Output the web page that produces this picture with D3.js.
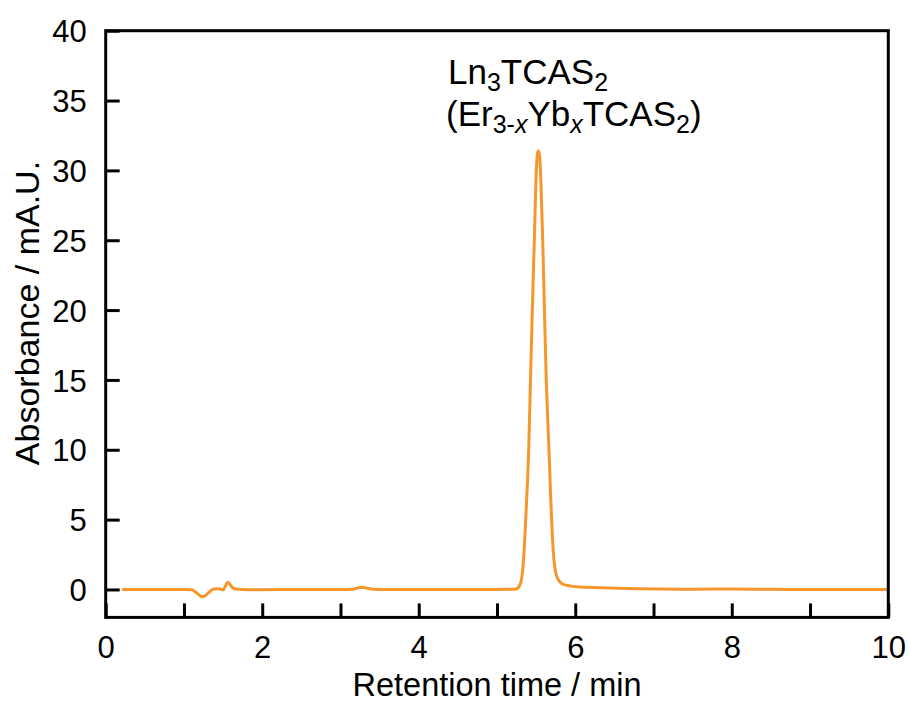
<!DOCTYPE html>
<html>
<head>
<meta charset="utf-8">
<script src="https://cdn.jsdelivr.net/npm/d3@7"></script>
<style>
  body { margin: 0; background: #fff; }
  svg { display: block; }
</style>
</head>
<body>
<div id="viz"></div>
<script>
// chromatogram trace
const times = [0.21, 0.5, 0.8, 1.0, 1.1, 1.15, 1.2, 1.23, 1.27, 1.32, 1.37, 1.42, 1.46, 1.5, 1.53, 1.555, 1.58, 1.62, 1.66, 1.75,
  2.0, 2.5, 3.0, 3.15, 3.22, 3.275, 3.33, 3.42, 3.6, 4.0, 4.5, 5.0, 5.15, 5.22,
  5.252, 5.303, 5.336, 5.371, 5.405, 5.431, 5.456, 5.477, 5.498, 5.515, 5.528,
  5.546, 5.562, 5.584, 5.604, 5.626, 5.664, 5.694, 5.728, 5.771, 5.847, 6.018, 6.316,
  6.8, 7.5, 8.0, 8.5, 9.0, 9.5, 10.0];
const absorbance = [0.0, 0.0, 0.0, 0.0, -0.02, -0.2, -0.42, -0.52, -0.45, -0.2, 0.0, 0.05, 0.03, -0.03, 0.25, 0.5, 0.42, 0.12, 0.03, 0.0,
  -0.02, 0.0, 0.0, 0.02, 0.1, 0.15, 0.1, 0.02, 0.0, 0.0, 0.0, 0.0, 0.01, 0.02,
  0.05, 0.48, 1.9, 5.5, 10.0, 15.7, 20.9, 25.0, 29.3, 31.1, 31.4,
  30.95, 29.0, 25.0, 20.5, 15.7, 10.0, 5.5, 2.1, 0.83, 0.36, 0.19, 0.12,
  0.05, 0.02, 0.03, 0.01, 0.0, 0.0, 0.0];

const xTicks = [0, 1, 2, 3, 4, 5, 6, 7, 8, 9, 10];
const yTicks = [0, 5, 10, 15, 20, 25, 30, 35, 40];

const points = times.map((t, i) => ({t: t, a: absorbance[i]}));

const width = 908, height = 704;

const x = d3.scaleLinear().domain([0, 10]).range([105.7, 888.3]);
const y = d3.scaleLinear().domain([-2, 40]).range([617.4, 30.7]);

const svg = d3.select("#viz")
    .append("svg")
    .attr("width", width)
    .attr("height", height)
    .attr("font-family", "'Liberation Sans', Arial, sans-serif");

// trace
svg.append("path")
    .datum(points)
    .attr("fill", "none")
    .attr("stroke", "#f7962a")
    .attr("stroke-width", 3)
    .attr("stroke-linejoin", "round")
    .attr("d", d3.line()
        .x(d => x(d.t))
        .y(d => y(d.a))
        .curve(d3.curveMonotoneX));

// axes
const xAxis = svg.append("g")
    .attr("transform", `translate(0,${y(-2)})`)
    .call(d3.axisBottom(x)
        .tickValues(xTicks)
        .tickSize(-14)
        .tickPadding(19)
        .tickFormat(d => d % 2 === 0 ? d : ""));

const yAxis = svg.append("g")
    .attr("transform", `translate(${x(0)},0)`)
    .call(d3.axisLeft(y)
        .tickValues(yTicks)
        .tickSize(-14)
        .tickPadding(19));

[xAxis, yAxis].forEach(a => {
    a.select(".domain").remove();
    a.selectAll(".tick line").attr("stroke", "#000").attr("stroke-width", 3);
    a.selectAll(".tick text")
        .attr("fill", "#000")
        .attr("font-size", 31)
        .attr("font-family", "'Liberation Sans', Arial, sans-serif");
});
yAxis.selectAll(".tick text").attr("dy", "0.36em");

// frame
svg.append("rect")
    .attr("x", x(0))
    .attr("y", y(40))
    .attr("width", x(10) - x(0))
    .attr("height", y(-2) - y(40))
    .attr("fill", "none")
    .attr("stroke", "#000")
    .attr("stroke-width", 3);

// axis titles
svg.append("text")
    .attr("x", (x(0) + x(10)) / 2)
    .attr("y", 696)
    .attr("text-anchor", "middle")
    .attr("font-size", 32.5)
    .text("Retention time / min");

svg.append("text")
    .attr("transform", "translate(39,313) rotate(-90)")
    .attr("text-anchor", "middle")
    .attr("font-size", 34)
    .text("Absorbance / mA.U.");

// peak label
const lab = svg.append("g").attr("font-size", 35);

const l1 = lab.append("text").attr("x", 448).attr("y", 84);
l1.append("tspan").text("Ln");
l1.append("tspan").attr("font-size", 25).attr("dy", 7).text("3");
l1.append("tspan").attr("dy", -7).text("TCAS");
l1.append("tspan").attr("font-size", 25).attr("dy", 7).text("2");

const l2 = lab.append("text").attr("x", 446).attr("y", 126);
l2.append("tspan").text("(Er");
l2.append("tspan").attr("font-size", 25).attr("dy", 7).text("3-");
l2.append("tspan").attr("font-size", 25).attr("font-style", "italic").text("x");
l2.append("tspan").attr("dy", -7).text("Yb");
l2.append("tspan").attr("font-size", 25).attr("font-style", "italic").attr("dy", 7).text("x");
l2.append("tspan").attr("dy", -7).text("TCAS");
l2.append("tspan").attr("font-size", 25).attr("dy", 7).text("2");
l2.append("tspan").attr("dy", -7).text(")");
</script>
</body>
</html>
